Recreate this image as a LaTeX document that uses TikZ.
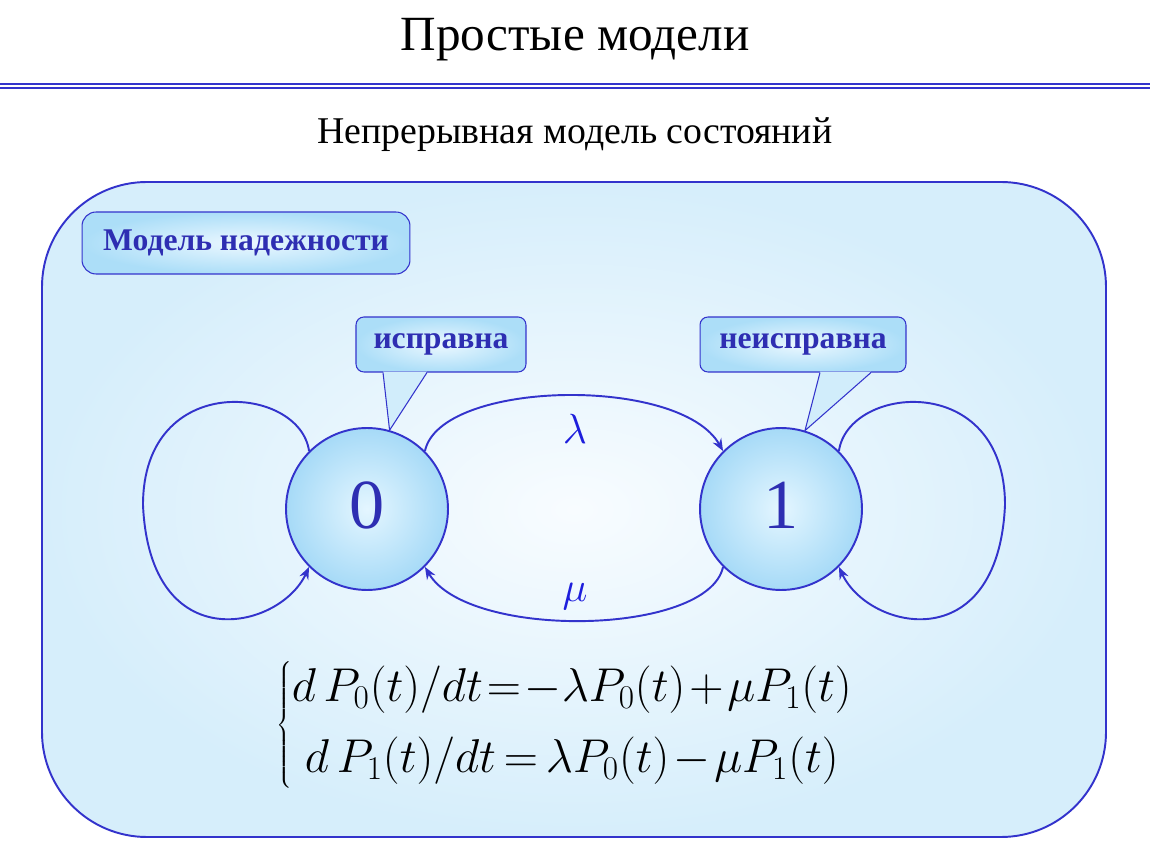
\RequirePackage{fix-cm}
\documentclass[tikz,border=0pt]{standalone}
\usepackage{fontspec}
\setmainfont{Liberation Serif}
\usepackage{tikz}
\usetikzlibrary{arrows.meta, positioning}

\definecolor{lineblue}{RGB}{51,51,204}
\definecolor{labelblue}{RGB}{46,46,178}
\definecolor{rateblue}{RGB}{30,30,220}
\definecolor{panelcore}{RGB}{248,252,255}
\definecolor{paneledge}{RGB}{214,238,251}
\definecolor{tagcore}{RGB}{236,248,255}
\definecolor{tagedge}{RGB}{172,222,248}
\definecolor{statecore}{RGB}{228,246,255}
\definecolor{stateedge}{RGB}{166,218,247}

\begin{document}
\begin{tikzpicture}[
                      x=0.02cm, y=-0.02cm,
                      >={Stealth[length=7pt, width=5.5pt]},
                  ]
                  \tikzset{
                      state/.style = {circle, draw=lineblue, line width=1.1pt, minimum size=3.24cm,
                                      shade, inner color=statecore, outer color=stateedge,
                                      text=labelblue, font=\fontsize{40}{44}\selectfont},
                      tag/.style = {rectangle, rounded corners=4.5pt, draw=lineblue, line width=0.6pt,
                                    shade, inner color=tagcore, outer color=tagedge,
                                    minimum height=1.1cm, text=labelblue,
                                    font=\fontsize{18}{21}\selectfont\bfseries},
                      pointer/.style = {draw=lineblue, line width=0.6pt},
                      trans/.style = {->, lineblue, line width=1.1pt},
                      rate/.style = {text=rateblue, font=\fontsize{24}{28}\selectfont},
                  }

                  % Page
                  \fill[white] (0,0) rectangle (1150,864);
                  \useasboundingbox (0,0) rectangle (1150,864);

                  % Header
                  \node (title) at (575,40) {\fontsize{28}{32}\selectfont Простые модели};
                  \draw[lineblue, line width=1.6pt] (0,84) -- (1150,84);
                  \draw[lineblue, line width=1.1pt] (0,88) -- (1150,88);
                  \node (subtitle) at (575,135) {\fontsize{21.5}{25}\selectfont Непрерывная модель состояний};

                  % Panel
                  \shade[draw=lineblue, line width=1.1pt, rounded corners=2.1cm,
                         inner color=panelcore, outer color=paneledge] (42,182) rectangle (1106,837);

                  \node[tag, rounded corners=8pt, minimum width=6.56cm, minimum height=1.24cm] (model) at (246,243) {Модель надежности};

                  % States
                  \node[state] (c0) at (367,509) {\raisebox{4pt}{0}};
                  \node[state] (c1) at (781,509) {\raisebox{4pt}{1}};

                  % Callouts
                  \node[tag, minimum width=3.4cm] (okbox) at (441,344.5) {исправна};
                  \node[tag, minimum width=4.12cm] (failbox) at (803,344.5) {неисправна};

                  \fill[tagedge!55!white] ([xshift=-1.16cm, yshift=0.5pt]okbox.south) -- (c0.74) -- ([xshift=-0.28cm, yshift=0.5pt]okbox.south) -- cycle;
                  \draw[pointer] ([xshift=-1.16cm]okbox.south) -- (c0.74) -- ([xshift=-0.28cm]okbox.south);
                  \fill[tagedge!55!white] ([xshift=0.34cm, yshift=0.5pt]failbox.south) -- (c1.73) -- ([xshift=1.36cm, yshift=0.5pt]failbox.south) -- cycle;
                  \draw[pointer] ([xshift=0.34cm]failbox.south) -- (c1.73) -- ([xshift=1.36cm]failbox.south);

                  % Transitions
                  \draw[trans] (c0.45) .. controls (440,380) and (680,375) .. (c1.135);
                  \draw[trans] (c1.-135) .. controls (708,636) and (468,640) .. (c0.-45);
                  \node[rate] (lam) at (575,429) {$\lambda$};
                  \node[rate] (mu) at (575,597) {$\mu$};

                  % Self loops
                  \draw[trans] (c0.135) .. controls (300,385) and (143,370) .. (143,505)
                               .. controls (150,660) and (280,630) .. (c0.-135);
                  \draw[trans] (c1.45) .. controls (848,385) and (1005,370) .. (1005,505)
                               .. controls (998,660) and (868,630) .. (c1.-45);

                  % Equations
                  \node (sys) at (565,725) {\fontsize{27}{34}\selectfont
                      \thickmuskip=1.5mu \medmuskip=1.5mu
                      $\left\{\begin{array}{@{}c@{}}
                      d\,P_0\bigl(t\bigr)\bigg/dt=-\lambda P_0\bigl(t\bigr)+\mu P_1\bigl(t\bigr)\\[6pt]
                      d\,P_1\bigl(t\bigr)\bigg/dt\;=\;\lambda P_0\bigl(t\bigr)-\mu P_1\bigl(t\bigr)
                      \end{array}\right.$};

              \end{tikzpicture}
\end{document}
